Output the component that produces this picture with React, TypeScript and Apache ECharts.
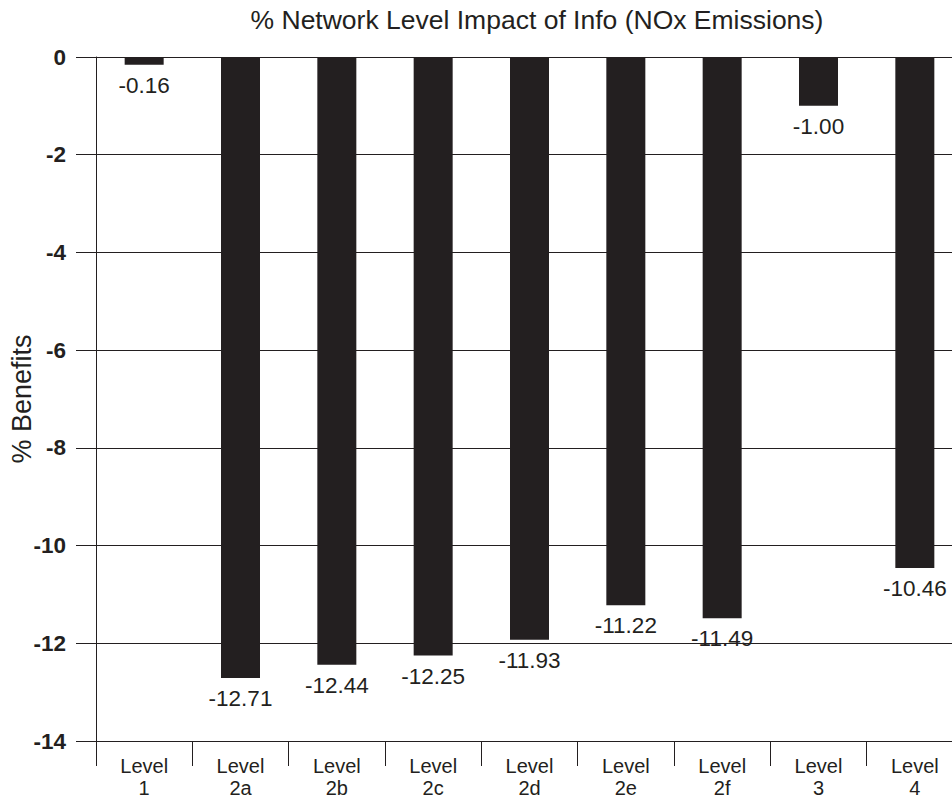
import React, { useEffect, useRef } from "react";
import * as echarts from "echarts";

const categories = ["Level 1", "Level 2a", "Level 2b", "Level 2c", "Level 2d", "Level 2e", "Level 2f", "Level 3", "Level 4"];
const values = [-0.16, -12.71, -12.44, -12.25, -11.93, -11.22, -11.49, -1.0, -10.46];
const titleText = "% Network Level Impact of Info (NOx Emissions)";
const yAxisName = "% Benefits";

const FONT = '"Liberation Sans", Arial, Helvetica, sans-serif';

export default function App() {
  const ref = useRef<HTMLDivElement>(null);
  useEffect(() => {
    if (!ref.current) return;
    const chart = echarts.init(ref.current, null, { renderer: "svg" });
    chart.setOption({
      animation: false,
      backgroundColor: "#ffffff",
      textStyle: { fontFamily: FONT },
      title: {
        text: titleText,
        left: 537,
        top: 6,
        padding: 0,
        textAlign: "center",
        textStyle: { fontFamily: FONT, fontSize: 26.5, fontWeight: "normal", color: "#231f20" },
      },
      grid: { left: 96, top: 57, right: -11, bottom: 60, containLabel: false, outerBoundsMode: "none" },
      xAxis: {
        type: "category",
        data: categories,
        axisLine: { show: true, onZero: false, lineStyle: { color: "#231f20", width: 1 } },
        axisTick: { show: true, alignWithLabel: false, interval: 0, length: 25, lineStyle: { color: "#231f20" } },
        axisLabel: {
          interval: 0,
          margin: 14,
          fontFamily: FONT,
          fontSize: 20,
          lineHeight: 22,
          color: "#231f20",
          formatter: (v: string) => v.replace(" ", "\n"),
        },
        splitLine: { show: false },
      },
      yAxis: {
        type: "value",
        min: -14,
        max: 0,
        interval: 2,
        name: yAxisName,
        nameLocation: "middle",
        nameRotate: 90,
        nameGap: 61,
        nameMoveOverlap: false,
        nameTextStyle: { fontFamily: FONT, fontSize: 27, color: "#231f20" },
        axisLine: { show: true, lineStyle: { color: "#231f20", width: 1 } },
        axisTick: { show: true, inside: false, length: 20, lineStyle: { color: "#231f20" } },
        axisLabel: { margin: 30, fontFamily: FONT, fontSize: 22.5, fontWeight: "bold", color: "#231f20" },
        splitLine: { show: true, lineStyle: { color: "#231f20", width: 1 } },
      },
      series: [
        {
          type: "bar",
          data: values,
          barWidth: 39,
          itemStyle: { color: "#231f20" },
          label: {
            show: true,
            position: "bottom",
            distance: 9,
            fontFamily: FONT,
            fontSize: 22.5,
            color: "#231f20",
            formatter: (p: any) => Number(p.value).toFixed(2),
          },
        },
      ],
    });
    return () => chart.dispose();
  }, []);
  return <div ref={ref} style={{ position: "fixed", left: 0, top: 0, width: 952, height: 801 }} />;
}
